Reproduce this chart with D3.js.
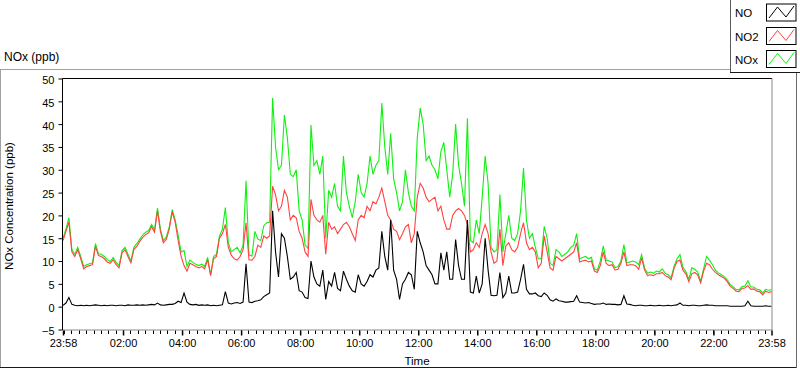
<!DOCTYPE html>
<html>
<head>
<meta charset="utf-8">
<script src="https://cdn.jsdelivr.net/npm/d3@7/dist/d3.min.js"></script>
<style>
  html, body { margin: 0; padding: 0; background: #fff; }
  svg { display: block; font-family: "Liberation Sans", Arial, sans-serif; }
</style>
</head>
<body>
<svg id="chart" width="800" height="369"></svg>
<script>
// ---------------- DATA ----------------
const seriesNames = ["NO", "NO2", "NOx"];
const seriesColors = ["#000000", "#ff4242", "#10f010"];
const startTime = "2000-01-01T23:58:00";
const sampleStepMinutes = 6;

const NO = [
0.3,0.8,2.0,0.5,0.3,0.2,0.3,0.2,0.3,0.2,0.3,0.4,0.3,0.2,0.3,0.2,0.3,0.3,0.2,0.3,
0.3,0.2,0.4,0.3,0.3,0.4,0.3,0.4,0.3,0.4,0.5,0.4,0.8,0.4,0.3,0.4,0.5,0.5,0.7,1.2,
0.9,3.0,1.0,0.5,0.4,0.5,0.3,0.4,0.3,0.4,0.2,0.3,0.2,0.3,0.4,3.3,0.8,0.6,0.8,0.9,
0.7,1.0,9.4,1.0,0.9,1.2,1.3,1.5,2.2,2.6,3.0,21,12,6.5,16,15,11,6,6.5,7.5,
3.5,3.2,2.0,1.8,10,6.5,5,4.5,8,1.6,5.5,4.5,7.5,4,3.5,7.8,6,4.5,3.5,3.2,
7,5,4.5,5.5,7,6.5,8,8.5,16.5,11,8,19,8,6,1.6,5,6,7.5,7,3.8,
16.5,14,12,9,8,7,5,5,11.8,8,12,6,6,14.7,9,6,6,19,3.2,3.0,
6.7,3.0,5,15,8,2.5,2.4,2.5,7.5,2,3,6.7,3,3,3.2,6,9.3,3.8,2.8,2.8,
3,2.4,2.2,3,2.5,1.5,1.2,1.7,1.3,1.2,1.0,1.0,1.1,1.2,2.4,1.0,0.9,0.8,0.9,0.7,
0.5,0.6,0.6,0.8,0.5,0.6,0.5,0.5,0.4,0.5,2.4,0.6,0.5,0.3,0.2,0.3,0.3,0.2,0.2,0.3,
0.2,0.2,0.3,0.2,0.2,0.3,0.2,0.3,0.4,0.8,0.3,0.3,0.2,0.3,0.3,0.2,0.2,0.3,0.4,0.3,
0.3,0.2,0.2,0.2,0.2,0.2,0.1,0.1,0.1,0.1,0.1,0.2,1.2,0.2,0.1,0.1,0.1,0.1,0.2,0.1,
0.1
];

const NO2 = [
14.5,16.5,18.5,12,11,12.5,10.5,8.3,8.8,9,9.2,13.2,11.2,11,10.5,9.8,9.5,10.3,9.2,8.5,
11.8,12.5,11,9.6,12.5,13.2,14.3,15.2,15.8,16.2,17.5,16.3,21.0,16.5,14,14.8,17,20.8,18.5,14.5,
11,9,7.8,9.5,9.2,8.8,8.5,8.8,8.3,10.3,6.8,10.5,11,15,16,18,13,11.3,10.5,10.2,
11,12.5,18.4,10.3,10.2,11,13.5,13,15.5,15,15.5,26.4,24.5,21,22,25.5,24,19,20,19.5,
16.5,15,12,11,23.5,20,19,18.5,20,11.5,18.5,17,17.5,16,17,18,18.5,17.5,16,14.5,
19,20,19.5,22,21,23,22.5,24,26,23,20,19,17,16.5,14.7,16,17.5,18,14,16,
24,27,26,24,23,23.5,24,21,22,19,17,17,20,21,21.5,21,20,18,12,12.5,
14,13,16,18,16,12,9.5,10,17,9,13.3,14,12.5,12,13,16,18.4,14,12.5,13,
12,8.5,9.5,15.5,12,8.5,8,11,10.5,10,10.5,11,11.5,12,14,9.8,10,10.2,9.8,10,
7.8,7.5,9,12,9.5,9,9.2,8,8.2,9.5,12,9,9.2,9.2,9,8.2,10.7,8,6.8,7,
6.8,7.2,7.2,7.5,6.8,6.5,5.9,8.4,9.9,10.2,8,7.2,5.5,7.2,7.5,7,5.2,7.8,9.5,9.2,
8.2,7.5,7,6.6,6.2,5.5,4.5,4,3.4,3.3,4,4.1,4.6,3.8,3.9,3.4,3.3,2.6,3.4,3.1,
3.3
];

const NOx = [
15,17,19.5,12.5,11.5,13,11,8.8,9.2,9.4,9.6,13.8,11.6,11.5,11,10.3,9.9,10.8,9.7,9,
12.3,13,11.5,10,13,13.8,14.8,15.7,16.3,16.7,18,16.8,21.6,17,14.5,15.3,17.5,21.3,19,15.7,
12,12.3,8.8,10.2,9.7,9.3,9,9.3,8.8,10.8,7.0,11,11.5,15.5,17,21.7,14,12,12.5,13,
11.8,13.5,27.6,11.3,11.1,16.5,14.8,14.5,17.7,18.4,18.5,45.7,35,30,31,42,37,29,28.5,30,
21,19,13.5,12.8,39.8,31,32,29,33,15,25.5,24,27,22,21,33,25,22,19.5,23,
29,25,24,27,33,29,31,32,44.6,35,29,38,28,25,21,23,30,25,22,21,
37,43.5,40,32,33,31,30,28,34,36,30,24,29,40,31,27,22,41.3,14.5,14,
19,16,24,33,27,13,12,12.5,24.6,12,16,20,15,14.5,16,21,30.4,19,15,16,
13,10.5,10.5,17.6,15,9.5,9,12.5,12,11,11.5,12,13,13.5,16,10.5,10.8,11,10.5,10.8,
8.3,8,10,13.3,10.2,10,9.8,8.5,8.8,10,13.6,9.6,9.8,10,9.8,9.2,11.4,8.5,7.3,7.6,
7.3,7.8,7.6,8.3,7.3,7,6.3,8.9,10.5,11.4,8.6,7.7,6,8.5,8.2,7.6,5.6,8.3,11,10.2,
9.2,8,7.4,7,6.6,5.9,4.9,4.4,3.8,3.7,4.4,4.5,5.7,4.3,4.3,3.8,3.7,3.0,3.8,3.6,
3.7
];

const yTicks = [-5, 0, 5, 10, 15, 20, 25, 30, 35, 40, 45, 50];
const xTickLabels = ["23:58","02:00","04:00","06:00","08:00","10:00","12:00","14:00","16:00","18:00","20:00","22:00","23:58"];
const titleText = "NOx (ppb)";
const yAxisTitle = "NOx Concentration (ppb)";
const xAxisTitle = "Time";

// ---------------- CHART ----------------
const svg = d3.select("#chart");
const plot = { left: 62.5, right: 772, top: 78.5, bottom: 330 };

const t0 = new Date(startTime);
const t1 = new Date(t0.getTime() + 24 * 3600 * 1000);
const times = NO.map((_, i) => new Date(t0.getTime() + i * sampleStepMinutes * 60000));

const x = d3.scaleTime().domain([t0, t1]).range([63, 771.5]);
const y = d3.scaleLinear().domain([-5, 50]).range([329.5, 78.5]);

// outer frame
svg.append("line").attr("x1", 0).attr("x2", 730).attr("y1", 69.5).attr("y2", 69.5).attr("stroke", "#a0a0a0");
svg.append("line").attr("x1", 0.5).attr("x2", 0.5).attr("y1", 69.5).attr("y2", 368).attr("stroke", "#a0a0a0");
svg.append("line").attr("x1", 0).attr("x2", 797).attr("y1", 367.5).attr("y2", 367.5).attr("stroke", "#1a1a1a");
svg.append("line").attr("x1", 796.5).attr("x2", 796.5).attr("y1", 72).attr("y2", 368).attr("stroke", "#6a6a6a");

// legend
const lg = svg.append("g");
lg.append("line").attr("x1", 730.5).attr("x2", 730.5).attr("y1", 0).attr("y2", 72.5).attr("stroke", "#5a5a5a");
lg.append("line").attr("x1", 730).attr("x2", 800).attr("y1", 72.5).attr("y2", 72.5).attr("stroke", "#1a1a1a");
const legendRows = [13, 36.5, 59.5];
seriesNames.forEach((name, k) => {
  const cy = legendRows[k];
  lg.append("text").attr("x", 735).attr("y", cy + 4).attr("font-size", 11.5).attr("fill", "#000").text(name);
  lg.append("rect").attr("x", 766.5).attr("y", cy - 9).attr("width", 29.5).attr("height", 17)
    .attr("fill", "#fff").attr("stroke", "#000");
  lg.append("polyline")
    .attr("points", [[769, cy + 5], [777.5, cy - 6], [786, cy + 4], [794, cy - 7]].map(p => p.join(",")).join(" "))
    .attr("fill", "none").attr("stroke", seriesColors[k]).attr("stroke-width", 1);
});

// title
svg.append("text").attr("x", 4).attr("y", 61).attr("font-size", 12).attr("fill", "#000").text(titleText);

// plot background
svg.append("rect").attr("x", plot.left).attr("y", plot.top).attr("width", plot.right - plot.left).attr("height", plot.bottom - plot.top).attr("fill", "#fff");

svg.append("defs").append("clipPath").attr("id", "clip")
  .append("rect").attr("x", plot.left).attr("y", plot.top).attr("width", plot.right - plot.left).attr("height", plot.bottom - plot.top);

const g = svg.append("g").attr("clip-path", "url(#clip)");
const lineFor = arr => d3.line().x((d, i) => x(times[i])).y(d => y(d)).curve(d3.curveLinear)(arr);

[[NOx, 2], [NO2, 1], [NO, 0]].forEach(([arr, k]) => {
  g.append("path").attr("d", lineFor(arr)).attr("fill", "none")
    .attr("stroke", seriesColors[k]).attr("stroke-width", 1.1).attr("stroke-linejoin", "miter");
});

// borders of plot area
svg.append("line").attr("x1", plot.left).attr("x2", plot.right).attr("y1", plot.top).attr("y2", plot.top).attr("stroke", "#000");
svg.append("line").attr("x1", plot.right).attr("x2", plot.right).attr("y1", plot.top).attr("y2", plot.bottom).attr("stroke", "#8a8a8a");
svg.append("line").attr("x1", plot.left).attr("x2", plot.right + 0.5).attr("y1", plot.bottom).attr("y2", plot.bottom).attr("stroke", "#8a8a8a");
svg.append("line").attr("x1", plot.left).attr("x2", plot.left).attr("y1", plot.top).attr("y2", plot.bottom).attr("stroke", "#000");

// y axis
const yAxis = d3.axisLeft(y).tickValues(yTicks).tickSize(4).tickPadding(4).tickFormat(d3.format("d"));
const gy = svg.append("g").attr("transform", `translate(${plot.left},0)`).call(yAxis);
gy.select(".domain").remove();
gy.selectAll("text").attr("font-size", 11).attr("font-family", "Liberation Sans, Arial, sans-serif").attr("fill", "#000").attr("dy", "0.45em");
gy.selectAll("line").attr("stroke", "#000");

// x axis (major)
const xTickTimes = xTickLabels.map((lab, k) => {
  if (k === 0) return t0;
  if (k === xTickLabels.length - 1) return t1;
  const [hh, mm] = lab.split(":").map(Number);
  const d = new Date(t0.getTime());
  d.setDate(d.getDate() + 1);
  d.setHours(hh, mm, 0, 0);
  return d;
});
const xAxis = d3.axisBottom(x).tickValues(xTickTimes).tickSize(5).tickPadding(4).tickFormat((d, k) => xTickLabels[k]);
const gx = svg.append("g").attr("transform", `translate(0,${plot.bottom + 0.5})`).call(xAxis);
gx.select(".domain").remove();
gx.selectAll("text").attr("font-size", 11).attr("font-family", "Liberation Sans, Arial, sans-serif").attr("fill", "#000");
gx.selectAll("line").attr("stroke", "#000").attr("stroke-width", 1.5);

// x axis minor ticks (every 15 min)
const minor = d3.timeMinute.every(15).range(t0, t1);
svg.append("g").selectAll("line").data(minor).join("line")
  .attr("x1", d => Math.round(x(d)) + 0.5).attr("x2", d => Math.round(x(d)) + 0.5)
  .attr("y1", plot.bottom + 0.5).attr("y2", plot.bottom + 4)
  .attr("stroke", "#000");

// axis titles
svg.append("text").attr("transform", "translate(13,206) rotate(-90)").attr("text-anchor", "middle")
  .attr("font-size", 11.5).attr("fill", "#000").text(yAxisTitle);
svg.append("text").attr("x", 417).attr("y", 364.5).attr("text-anchor", "middle")
  .attr("font-size", 11.5).attr("fill", "#000").text(xAxisTitle);
</script>
</body>
</html>
